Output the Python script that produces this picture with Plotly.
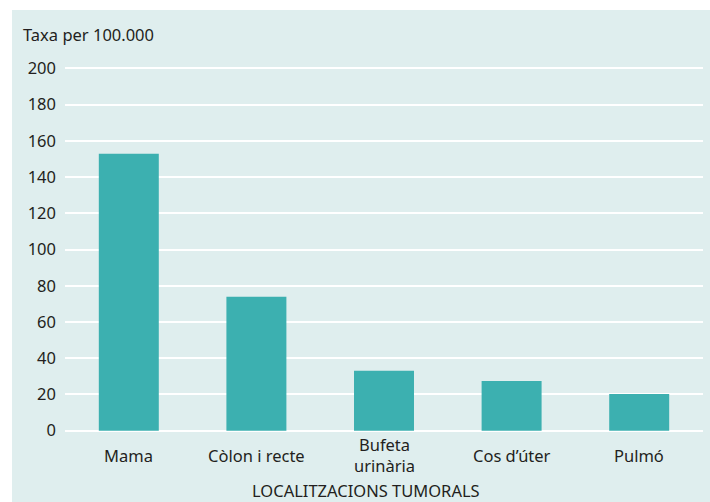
import plotly.graph_objects as go

# Incidence rate per 100,000 by tumour site
categories = ["Mama", "Còlon i recte", "Bufeta urinària", "Cos d’úter", "Pulmó"]
category_labels = ["Mama", "Còlon i recte", "Bufeta<br>urinària", "Cos d’úter", "Pulmó"]
rates = [152.8, 73.9, 33.1, 27.5, 20.3]
y_ticks = [0, 20, 40, 60, 80, 100, 120, 140, 160, 180, 200]

W, H = 710, 502
ML, MR, MT, MB = 65, 7, 66, 69
PW, PH = W - ML - MR, H - MT - MB
Y0, Y1 = -1.27, 201.3

FONT = "Noto Sans"
FS = 16.5
TXT = "#231f20"
PANEL = "#dfeeee"
BAR = "#3cb0b0"


def px_to_paper_x(px):
    return (px - ML) / PW


def px_to_paper_y(py):
    return (H - MB - py) / PH


fig = go.Figure(
    go.Bar(
        x=categories,
        y=rates,
        marker=dict(color=BAR, line=dict(width=0)),
        width=0.47,
        hoverinfo="x+y",
    )
)

# Tinted panel behind the plot
fig.add_shape(
    type="rect", xref="paper", yref="paper", layer="below",
    x0=px_to_paper_x(12), x1=px_to_paper_x(W + 5),
    y0=px_to_paper_y(H + 5), y1=px_to_paper_y(10),
    fillcolor=PANEL, line=dict(width=0),
)

annotations = [
    dict(text="Taxa per 100.000", xref="paper", yref="paper",
         x=px_to_paper_x(21), y=px_to_paper_y(35), xanchor="left", yanchor="middle",
         showarrow=False, font=dict(family=FONT, size=FS, color=TXT)),
    dict(text="LOCALITZACIONS TUMORALS", xref="paper", yref="paper",
         x=px_to_paper_x(366), y=px_to_paper_y(491), xanchor="center", yanchor="middle",
         showarrow=False, font=dict(family=FONT, size=FS, color=TXT)),
]
for cat, lab in zip(categories, category_labels):
    annotations.append(dict(
        text=lab, xref="x", yref="paper", x=cat, y=px_to_paper_y(455),
        xanchor="center", yanchor="middle", showarrow=False,
        font=dict(family=FONT, size=FS, color=TXT),
    ))

fig.update_layout(
    width=W, height=H,
    margin=dict(l=ML, r=MR, t=MT, b=MB, pad=0),
    paper_bgcolor="white",
    plot_bgcolor="rgba(0,0,0,0)",
    showlegend=False,
    bargap=0.53,
    annotations=annotations,
    xaxis=dict(
        type="category", showticklabels=False, showgrid=False,
        zeroline=False, showline=False, ticks="",
    ),
    yaxis=dict(
        range=[Y0, Y1], tickvals=y_ticks, ticks="", ticklabelstandoff=8,
        showgrid=True, gridcolor="white", gridwidth=2,
        zeroline=False, showline=False,
        tickfont=dict(family=FONT, size=FS, color=TXT),
    ),
)

fig.write_html("out.html")
